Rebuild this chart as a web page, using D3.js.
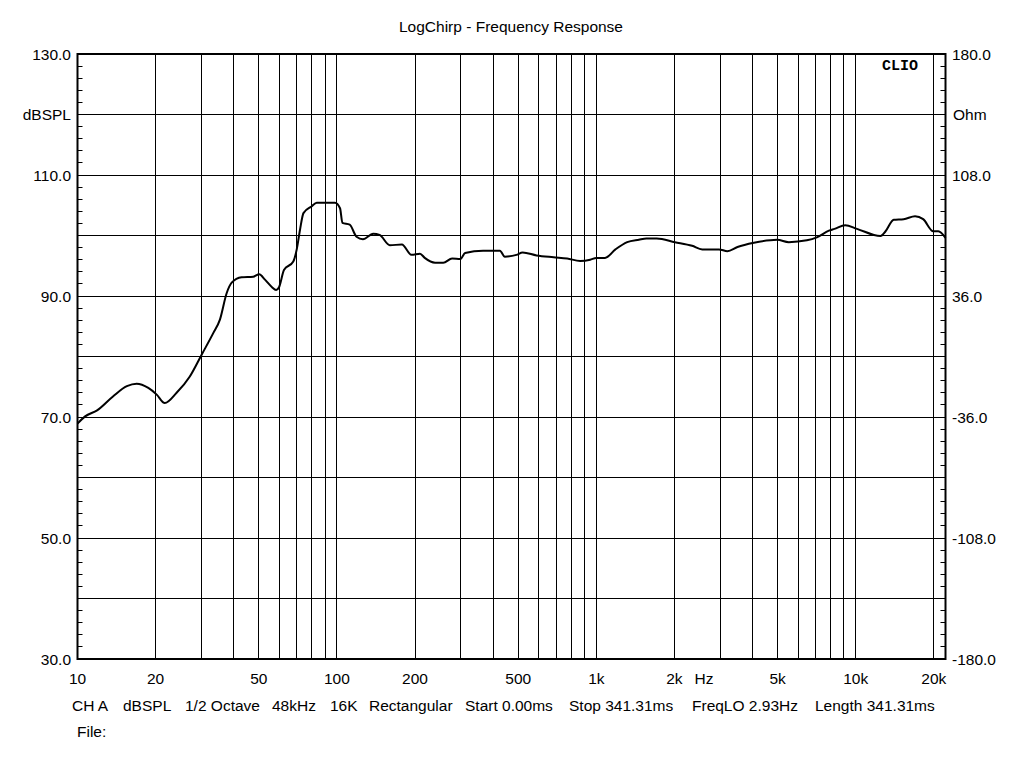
<!DOCTYPE html>
<html>
<head>
<meta charset="utf-8">
<script src="https://cdn.jsdelivr.net/npm/d3@7/dist/d3.min.js"></script>
<style>
  html, body { margin: 0; padding: 0; background: #fff; }
  svg { display: block; }
  text { font-family: "Liberation Sans", Arial, sans-serif; font-size: 15.5px; fill: #000; }
</style>
</head>
<body>
<svg id="chart" width="1024" height="768"></svg>
<script>
// ---- data ----
const freqs = [10, 10.7, 11.9, 13.7, 15.5, 16.9, 18.75, 20.2, 21.7, 24.1, 27.1, 30.1, 33.4, 35.4, 37.6, 39.3,
  42.9, 47.6, 50.2, 52.8, 56.1, 58.3, 59.9, 62.5, 67.9, 70.0, 72.1, 74.3, 79.8, 83.6, 98.3, 102.8, 105, 112,
  119, 126, 138, 146, 160, 178, 194, 209, 218, 239, 257, 278, 299, 312, 366, 425, 444, 492, 520, 588, 684,
  772, 866, 947, 1000, 1080, 1185, 1315, 1459, 1560, 1710, 2010, 2340, 2560, 2970, 3200, 3500, 4050, 4980,
  5520, 6480, 7080, 7880, 8280, 9110, 10110, 12460, 13030, 14010, 15300, 16930, 18190, 19900, 20810, 22180];
const splValues = [68.9, 70.1, 71.1, 73.4, 75.1, 75.5, 74.8, 73.7, 72.3, 74.0, 76.7, 80.3, 83.9, 86.1, 90.5, 92.2,
  93.1, 93.2, 93.6, 92.7, 91.5, 91.0, 91.5, 94.3, 95.7, 97.7, 101.0, 103.7, 104.8, 105.4, 105.4, 104.5, 102.1, 101.8,
  99.8, 99.4, 100.3, 100.1, 98.4, 98.5, 96.8, 97.0, 96.3, 95.5, 95.5, 96.2, 96.1, 97.1, 97.5, 97.5, 96.5, 96.8, 97.2, 96.7, 96.4,
  96.2, 95.8, 96.0, 96.3, 96.3, 97.7, 98.9, 99.3, 99.5, 99.5, 98.9, 98.3, 97.7, 97.7, 97.4, 98.1, 98.8, 99.3,
  98.9, 99.2, 99.7, 100.8, 101.1, 101.7, 101.1, 99.9, 100.7, 102.6, 102.7, 103.2, 102.7, 100.7, 100.7, 99.6];

const xTickValues = [10, 20, 50, 100, 200, 500, 1000, 2000, 5000, 10000, 20000];
const xTickLabels = ["10", "20", "50", "100", "200", "500", "1k", "2k", "5k", "10k", "20k"];
const yLeftTicks = [130, 110, 90, 70, 50, 30];
const yLeftLabels = ["130.0", "110.0", "90.0", "70.0", "50.0", "30.0"];
const yRightLabels = ["180.0", "108.0", "36.0", "-36.0", "-108.0", "-180.0"];
const infoItems = ["CH A", "dBSPL", "1/2 Octave", "48kHz", "16K", "Rectangular", "Start 0.00ms", "Stop 341.31ms", "FreqLO 2.93Hz", "Length 341.31ms"];
const infoX = [72, 123, 185, 272, 330, 369, 465, 569, 692, 815];

// ---- layout ----
const svg = d3.select("#chart");
const pL = 77.5, pR = 945.5, pT = 54, pB = 659;
const x = d3.scaleLog().domain([10, 22180]).range([pL, pR]);
const y = d3.scaleLinear().domain([30, 130]).range([pB, pT]);
const snap = v => Math.round(v - 0.5) + 0.5;

svg.append("rect").attr("width", 1024).attr("height", 768).attr("fill", "#fff");

// vertical grid
const vGrid = [];
for (let d = 10; d <= 10000; d *= 10) for (let k = 1; k <= 9; k++) if (d * k > 10 && d * k <= 20000) vGrid.push(d * k);
vGrid.push(20000);
svg.append("g").selectAll("line").data(vGrid).join("line")
  .attr("x1", d => snap(x(d))).attr("x2", d => snap(x(d)))
  .attr("y1", pT).attr("y2", pB)
  .attr("stroke", "#000").attr("stroke-width", 1);

// horizontal grid
const hGrid = d3.range(40, 130, 10);
svg.append("g").selectAll("line").data(hGrid).join("line")
  .attr("x1", pL).attr("x2", pR)
  .attr("y1", d => snap(y(d))).attr("y2", d => snap(y(d)))
  .attr("stroke", "#000").attr("stroke-width", 1);

// minor ticks every 2 dB (left inside, right inside)
const minor = d3.range(30, 131, 2).filter(v => v % 10 !== 0);
svg.append("g").selectAll("line").data(minor).join("line")
  .attr("x1", pL).attr("x2", pL + 5)
  .attr("y1", d => snap(y(d))).attr("y2", d => snap(y(d)))
  .attr("stroke", "#000");
svg.append("g").selectAll("line").data(minor).join("line")
  .attr("x1", pR - 5).attr("x2", pR)
  .attr("y1", d => snap(y(d))).attr("y2", d => snap(y(d)))
  .attr("stroke", "#000");

// frame
svg.append("rect").attr("x", pL).attr("y", pT).attr("width", pR - pL).attr("height", pB - pT)
  .attr("fill", "none").attr("stroke", "#000").attr("stroke-width", 2);

// curve
const line = d3.line().x(d => x(d[0])).y(d => y(d[1])).curve(d3.curveMonotoneX);
svg.append("path").datum(freqs.map((f, i) => [f, splValues[i]]))
  .attr("d", line).attr("fill", "none").attr("stroke", "#000").attr("stroke-width", 2)
  .attr("stroke-linejoin", "round");

// x labels
svg.append("g").selectAll("text").data(xTickValues).join("text")
  .attr("x", d => x(d)).attr("y", 684).attr("text-anchor", "middle")
  .text((d, i) => xTickLabels[i]);
svg.append("text").attr("x", 704).attr("y", 684).attr("text-anchor", "middle").text("Hz");

// y labels
svg.append("g").selectAll("text").data(yLeftTicks).join("text")
  .attr("x", 71).attr("y", d => y(d)).attr("dy", "0.36em").attr("text-anchor", "end")
  .text((d, i) => yLeftLabels[i]);
svg.append("text").attr("x", 71).attr("y", y(120)).attr("dy", "0.36em").attr("text-anchor", "end").text("dBSPL");
svg.append("g").selectAll("text").data(yLeftTicks).join("text")
  .attr("x", 952).attr("y", d => y(d)).attr("dy", "0.36em").attr("text-anchor", "start")
  .text((d, i) => yRightLabels[i]);
svg.append("text").attr("x", 953).attr("y", y(120)).attr("dy", "0.36em").attr("text-anchor", "start").text("Ohm");

// title
svg.append("text").attr("x", 511).attr("y", 32).attr("text-anchor", "middle").text("LogChirp - Frequency Response");

// CLIO
svg.append("text").attr("x", 900).attr("y", 70).attr("text-anchor", "middle")
  .style("font-family", "'Liberation Mono', 'Courier New', monospace").style("font-weight", "bold")
  .style("font-size", "15px").text("CLIO");

// info line
svg.append("g").selectAll("text").data(infoItems).join("text")
  .attr("x", (d, i) => infoX[i]).attr("y", 711).text(d => d);
svg.append("text").attr("x", 77).attr("y", 737).text("File:");
</script>
</body>
</html>
